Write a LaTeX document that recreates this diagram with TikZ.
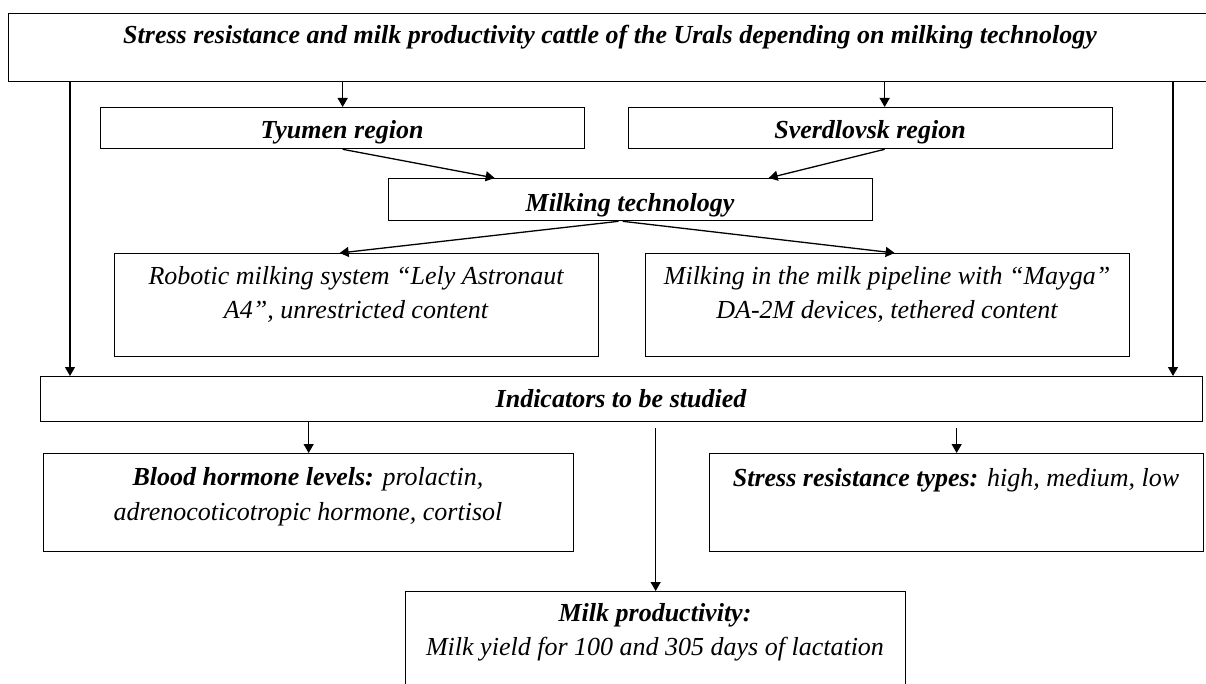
\documentclass[tikz,border=0pt]{standalone}
\usepackage{fontspec}
\setmainfont{Liberation Serif}
\usetikzlibrary{arrows.meta,calc}
\begin{document}
\begin{tikzpicture}[x=1pt,y=-1pt,
  box/.style={draw, line width=1.3pt, inner sep=0pt, anchor=north west},
  lab/.style={anchor=base, inner sep=0pt, font=\fontsize{26}{34}\selectfont\itshape},
  blab/.style={anchor=base, inner sep=0pt, font=\fontsize{26}{34}\selectfont\bfseries\itshape},
  arr/.style={line width=1.3pt, -{Triangle[length=9pt,width=10pt]}},
  ln/.style={line width=1.3pt}]
\useasboundingbox (0,0) rectangle (1206,684);
\fill[white] (0,0) rectangle (1206,684);
% boxes
\node[box, minimum width=1204pt, minimum height=68pt] (title) at (8,13) {};
\node[box, minimum width=484pt, minimum height=41pt] (tyu) at (100,107) {};
\node[box, minimum width=484pt, minimum height=41pt] (sve) at (628,107) {};
\node[box, minimum width=484pt, minimum height=42pt] (mt) at (388,178) {};
\node[box, minimum width=484pt, minimum height=103pt] (rob) at (114,253) {};
\node[box, minimum width=484pt, minimum height=103pt] (may) at (645,253) {};
\node[box, minimum width=1162pt, minimum height=45pt] (ind) at (40,376) {};
\node[box, minimum width=530pt, minimum height=98pt] (blo) at (43,453) {};
\node[box, minimum width=494pt, minimum height=98pt] (str) at (709,453) {};
\node[box, minimum width=500pt, minimum height=120pt] (mil) at (405,591) {};
% texts
\node[blab] (titleT) at (610,44) {Stress resistance and milk productivity cattle of the Urals depending on milking technology};
\node[blab] (tyuT) at (342,139) {Tyumen region};
\node[blab] (sveT) at (870,139) {Sverdlovsk region};
\node[blab] (mtT) at (630,212) {Milking technology};
\node[lab] (robT1) at (356,284) {Robotic milking system “Lely Astronaut};
\node[lab] (robT2) at (356,318) {A4”, unrestricted content};
\node[lab] (mayT1) at (887,284) {Milking in the milk pipeline with “Mayga”};
\node[lab] (mayT2) at (887,318) {DA-2M devices, tethered content};
\node[blab] (indT) at (621,407) {Indicators to be studied};
\node[lab] (bloT1) at (308,485) {\textbf{Blood hormone levels:} prolactin,};
\node[lab] (bloT2) at (308,520) {adrenocoticotropic hormone, cortisol};
\node[lab] (strT) at (956,486) {\textbf{Stress resistance types:} high, medium, low};
\node[blab] (milT1) at (655,621) {Milk productivity:};
\node[lab] (milT2) at (655,655) {Milk yield for 100 and 305 days of lactation};
% helper coordinates
\coordinate (sveTop) at ($(sve.north)+(14,0)$);
\coordinate (lx) at (70,0);
\coordinate (rx) at (1173,0);
% connectors
\draw[arr] (title.south -| tyu.north) -- (tyu.north);
\draw[arr] (sveTop |- title.south) -- (sveTop);
\draw[arr] (tyu.south) -- ($(mt.north)+(-136,0)$);
\draw[arr] (sveTop |- sve.south) -- ($(mt.north)+(138,0)$);
\draw[arr] ($(mt.south)+(-12,0)$) -- ($(rob.north)+(-17,0)$);
\draw[arr] ($(mt.south)+(-8,0)$) -- ($(may.north)+(7,0)$);
\draw[arr] (title.south -| lx) -- (ind.north -| lx);
\draw[arr] (title.south -| rx) -- (ind.north -| rx);
\draw[arr] (blo.north |- ind.south) -- (blo.north);
\draw[arr] ($(str.north |- ind.south)+(0,6)$) -- (str.north);
\draw[arr] ($(mil.north |- ind.south)+(0,6)$) -- (mil.north);
\end{tikzpicture}
\end{document}
